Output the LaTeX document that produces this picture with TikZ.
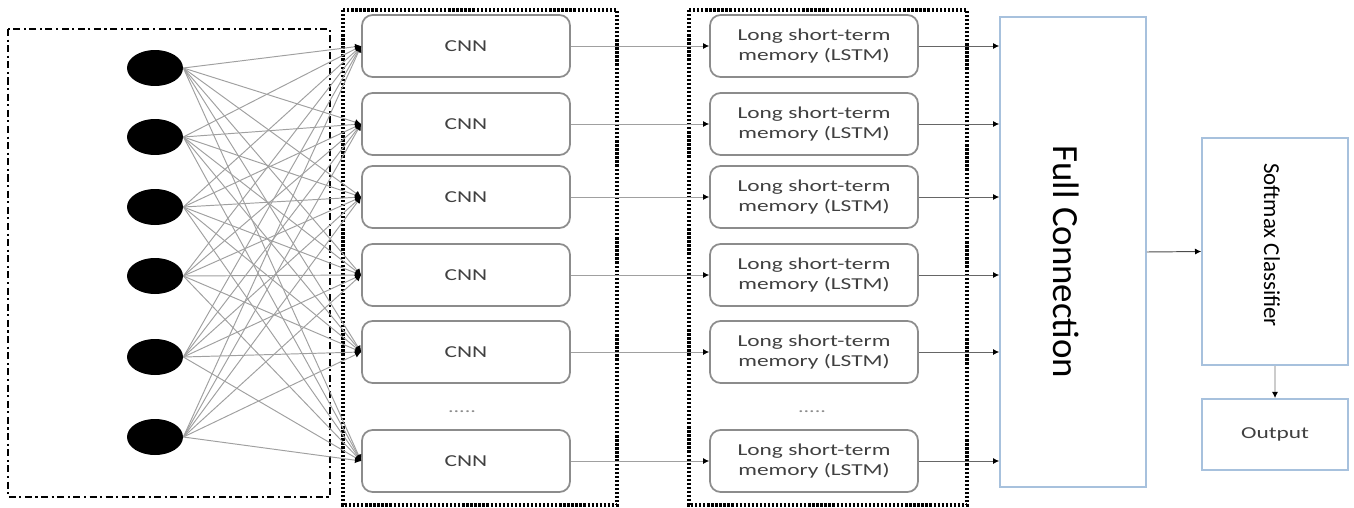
\documentclass[tikz,border=0pt]{standalone}
\usepackage{fontspec}
\setmainfont{Carlito}
\newfontfamily\boxfont[FakeStretch=1.4]{Carlito}
\usetikzlibrary{shapes.geometric, arrows.meta, positioning}
\definecolor{LinkGray}{HTML}{A0A0A0}
\definecolor{CellGray}{HTML}{8C8C8C}
\definecolor{BlockBlue}{HTML}{A7C1DD}

\begin{document}
\begin{tikzpicture}[x=0.02cm, y=-0.02cm,
  neuron/.style={ellipse, fill=black, minimum width=1.12cm, minimum height=0.72cm, inner sep=0pt},
  cell/.style={rectangle, rounded corners=6pt, draw=CellGray, line width=1pt,
    minimum width=4.16cm, minimum height=1.24cm, align=center, text=black!75,
    font=\boxfont\fontsize{9.5}{11}\selectfont},
  block/.style={rectangle, draw=BlockBlue, line width=1pt, minimum width=2.92cm},
  link/.style={-{Latex[length=3.5pt, width=3.5pt, color=black]}, LinkGray, line width=0.55pt},
  inframe/.style={dash pattern=on 4pt off 2pt on 1.2pt off 2pt, line width=1.4pt},
  layerframe/.style={dash pattern=on 1.3pt off 1pt, line width=1.8pt}
]
\useasboundingbox (0,0) rectangle (1354,507);

% input layer
\draw[inframe] (8,29) rectangle (330,497);
\node[neuron] (in1) at (155,68)  {};
\node[neuron] (in2) at (155,137) {};
\node[neuron] (in3) at (155,207) {};
\node[neuron] (in4) at (155,276) {};
\node[neuron] (in5) at (155,357) {};
\node[neuron] (in6) at (155,437) {};

% CNN layer
\draw[layerframe] (343,10) rectangle (617,505);
\node[cell] (cnn1) at (466,46)  {CNN};
\node[cell] (cnn2) at (466,124) {CNN};
\node[cell] (cnn3) at (466,197) {CNN};
\node[cell] (cnn4) at (466,275) {CNN};
\node[cell] (cnn5) at (466,352) {CNN};
\node[cell] (cnn6) at (466,461) {CNN};
\node[text=black!45, font=\boxfont\fontsize{9}{10}\selectfont] (cnndots) at (462,412) {.....};

% LSTM layer
\draw[layerframe] (689,10) rectangle (967,505);
\node[cell] (lstm1) at (814,46)  {Long short-term\\memory (LSTM)};
\node[cell] (lstm2) at (814,124) {Long short-term\\memory (LSTM)};
\node[cell] (lstm3) at (814,197) {Long short-term\\memory (LSTM)};
\node[cell] (lstm4) at (814,275) {Long short-term\\memory (LSTM)};
\node[cell] (lstm5) at (814,352) {Long short-term\\memory (LSTM)};
\node[cell] (lstm6) at (814,461) {Long short-term\\memory (LSTM)};
\node[text=black!45, font=\boxfont\fontsize{9}{10}\selectfont] (lstmdots) at (812,412) {.....};

% output side
\node[block, minimum height=9.4cm] (fc) at (1073,252) {};
\node[rotate=-90, font=\fontsize{21}{25}\selectfont] (fclabel) at (1066,262) {Full Connection};
\node[block, minimum height=4.54cm] (soft) at (1275,251.5) {};
\node[rotate=-90, font=\fontsize{13}{15}\selectfont] (softlabel) at (1272,245) {Softmax Classifier};
\node[block, minimum height=1.42cm, font=\boxfont\fontsize{9.5}{11}\selectfont, text=black!75] (out) at (1275,434.5) {Output};

\foreach \i in {1,...,6}
  \foreach \j in {1,...,6}
    \draw[link] (in\i.east) -- (cnn\j.west);

\foreach \j in {1,...,6} {
  \draw[link] (cnn\j.east) -- (lstm\j.west);
  \draw[link, black!60] (lstm\j.east) -- (fc.west |- lstm\j.east);
}
\draw[link, black!70] (fc.east) -- (soft.west);
\draw[link, black!20, line width=1.6pt] (soft.south) -- (out.north);
\end{tikzpicture}
\end{document}
